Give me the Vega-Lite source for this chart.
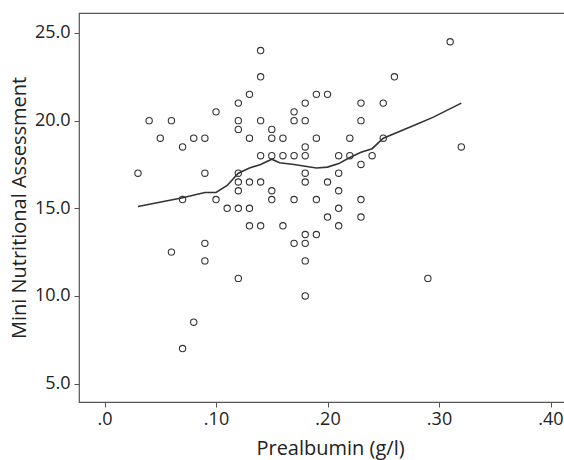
{
  "$schema": "https://vega.github.io/schema/vega-lite/v6.json",
  "autosize": "none",
  "width": 486,
  "height": 389,
  "padding": {"left": 79, "top": 13, "right": 0, "bottom": 58},
  "background": "white",
  "config": {
    "font": "Open Sans",
    "view": {"stroke": "#555555", "strokeWidth": 1.2},
    "axis": {
      "domain": false,
      "grid": false,
      "tickColor": "#555555",
      "tickSize": 5,
      "labelFont": "Open Sans",
      "labelFontSize": 18,
      "labelColor": "#222222",
      "titleFont": "Open Sans",
      "titleFontSize": 20,
      "titleFontWeight": "normal",
      "titleColor": "#222222"
    }
  },
  "datasets": {
    "pts": [
      {"p": 0.03, "m": 17.0}, {"p": 0.04, "m": 20.0}, {"p": 0.05, "m": 19.0}, {"p": 0.06, "m": 20.0}, {"p": 0.06, "m": 12.5},
      {"p": 0.07, "m": 18.5}, {"p": 0.07, "m": 15.5}, {"p": 0.07, "m": 7.0}, {"p": 0.08, "m": 19.0}, {"p": 0.08, "m": 8.5},
      {"p": 0.09, "m": 19.0}, {"p": 0.09, "m": 17.0}, {"p": 0.09, "m": 13.0}, {"p": 0.09, "m": 12.0}, {"p": 0.10, "m": 20.5},
      {"p": 0.10, "m": 15.5}, {"p": 0.11, "m": 15.0}, {"p": 0.12, "m": 21.0}, {"p": 0.12, "m": 20.0}, {"p": 0.12, "m": 19.5},
      {"p": 0.12, "m": 17.0}, {"p": 0.12, "m": 16.5}, {"p": 0.12, "m": 16.0}, {"p": 0.12, "m": 15.0}, {"p": 0.12, "m": 11.0},
      {"p": 0.13, "m": 21.5}, {"p": 0.13, "m": 19.0}, {"p": 0.13, "m": 16.5}, {"p": 0.13, "m": 15.0}, {"p": 0.13, "m": 14.0},
      {"p": 0.14, "m": 24.0}, {"p": 0.14, "m": 22.5}, {"p": 0.14, "m": 20.0}, {"p": 0.14, "m": 18.0}, {"p": 0.14, "m": 16.5},
      {"p": 0.14, "m": 14.0}, {"p": 0.15, "m": 19.5}, {"p": 0.15, "m": 19.0}, {"p": 0.15, "m": 18.0}, {"p": 0.15, "m": 16.0},
      {"p": 0.15, "m": 15.5}, {"p": 0.16, "m": 19.0}, {"p": 0.16, "m": 18.0}, {"p": 0.16, "m": 14.0}, {"p": 0.17, "m": 20.5},
      {"p": 0.17, "m": 20.0}, {"p": 0.17, "m": 18.0}, {"p": 0.17, "m": 15.5}, {"p": 0.17, "m": 13.0}, {"p": 0.18, "m": 21.0},
      {"p": 0.18, "m": 20.0}, {"p": 0.18, "m": 18.5}, {"p": 0.18, "m": 18.0}, {"p": 0.18, "m": 17.0}, {"p": 0.18, "m": 16.5},
      {"p": 0.18, "m": 13.5}, {"p": 0.18, "m": 13.0}, {"p": 0.18, "m": 12.0}, {"p": 0.18, "m": 10.0}, {"p": 0.19, "m": 21.5},
      {"p": 0.19, "m": 19.0}, {"p": 0.19, "m": 15.5}, {"p": 0.19, "m": 13.5}, {"p": 0.20, "m": 21.5}, {"p": 0.20, "m": 16.5},
      {"p": 0.20, "m": 14.5}, {"p": 0.21, "m": 18.0}, {"p": 0.21, "m": 17.0}, {"p": 0.21, "m": 16.0}, {"p": 0.21, "m": 15.0},
      {"p": 0.21, "m": 14.0}, {"p": 0.22, "m": 19.0}, {"p": 0.22, "m": 18.0}, {"p": 0.23, "m": 21.0}, {"p": 0.23, "m": 20.0},
      {"p": 0.23, "m": 17.5}, {"p": 0.23, "m": 15.5}, {"p": 0.23, "m": 14.5}, {"p": 0.24, "m": 18.0}, {"p": 0.25, "m": 21.0},
      {"p": 0.25, "m": 19.0}, {"p": 0.26, "m": 22.5}, {"p": 0.29, "m": 11.0}, {"p": 0.31, "m": 24.5}, {"p": 0.32, "m": 18.5}
    ],
    "fit": [
      {"p": 0.03, "m": 15.1}, {"p": 0.07, "m": 15.6}, {"p": 0.09, "m": 15.9}, {"p": 0.10, "m": 15.9}, {"p": 0.11, "m": 16.3},
      {"p": 0.12, "m": 17.0}, {"p": 0.13, "m": 17.3}, {"p": 0.14, "m": 17.5}, {"p": 0.15, "m": 17.8}, {"p": 0.157, "m": 17.6},
      {"p": 0.17, "m": 17.5}, {"p": 0.18, "m": 17.4}, {"p": 0.19, "m": 17.3}, {"p": 0.20, "m": 17.35}, {"p": 0.21, "m": 17.55},
      {"p": 0.22, "m": 17.9}, {"p": 0.23, "m": 18.2}, {"p": 0.24, "m": 18.4}, {"p": 0.25, "m": 19.0}, {"p": 0.265, "m": 19.4},
      {"p": 0.28, "m": 19.8}, {"p": 0.295, "m": 20.2}, {"p": 0.32, "m": 21.0}
    ]
  },
  "encoding": {
    "x": {
      "field": "p", "type": "quantitative",
      "scale": {"domain": [-0.0229, 0.413], "nice": false, "zero": false},
      "axis": {
        "values": [0, 0.1, 0.2, 0.3, 0.4],
        "labelExpr": "datum.value == 0 ? '.0' : replace(format(datum.value, '.2f'), '0.', '.')",
        "labelPadding": 3,
        "title": "Prealbumin (g/l)",
        "titleX": 251,
        "titleY": 52,
        "titleBaseline": "alphabetic"
      }
    },
    "y": {
      "field": "m", "type": "quantitative",
      "scale": {"domain": [3.95, 26.14], "nice": false, "zero": false},
      "axis": {
        "values": [5, 10, 15, 20, 25],
        "format": ".1f",
        "labelPadding": 4,
        "title": "Mini Nutritional Assessment",
        "titleX": -54,
        "titleBaseline": "alphabetic"
      }
    }
  },
  "layer": [
    {
      "data": {"name": "pts"},
      "mark": {"type": "point", "shape": "circle", "filled": false, "size": 40, "stroke": "#333333", "strokeWidth": 1.1, "opacity": 1}
    },
    {
      "data": {"name": "fit"},
      "mark": {"type": "line", "color": "#333333", "strokeWidth": 1.6}
    }
  ]
}
